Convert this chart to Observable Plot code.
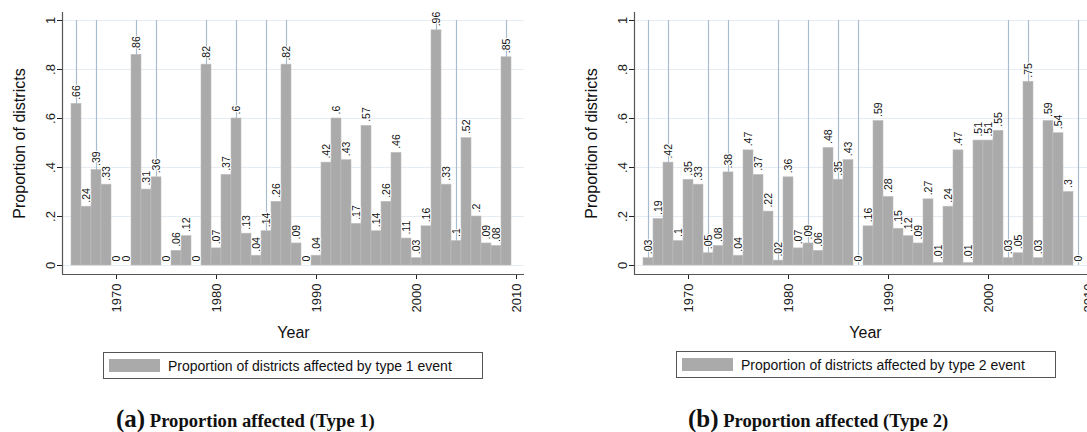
<!DOCTYPE html>
<html>
<head>
<meta charset="utf-8">
<script src="https://cdn.jsdelivr.net/npm/d3@7"></script>
<script src="https://cdn.jsdelivr.net/npm/@observablehq/plot@0.6"></script>
<style>
  html, body { margin: 0; padding: 0; background: #fff; }
  body { width: 1087px; height: 432px; overflow: hidden; position: relative; font-family: "Liberation Sans", Arial, sans-serif; }
  .chart { position: absolute; top: 0; width: 540px; height: 345px; }
  .chart svg { max-width: none !important; }
  .leg { position: absolute; box-sizing: border-box; width: 380px; height: 27px; border: 1px solid #555; display: flex; align-items: center; font-size: 14px; color: #111; white-space: nowrap; }
  .sw { display: inline-block; width: 51px; height: 13px; background: #aaaaaa; margin-left: 5px; margin-right: 8px; }
  .cap { position: absolute; top: 406px; font-family: "Liberation Serif", "Times New Roman", serif; font-weight: bold; font-size: 18.6px; line-height: 26px; white-space: nowrap; color: #111; }
  .cap .big { font-size: 25px; }
</style>
</head>
<body>
<div id="a" class="chart" style="left:0px"></div>
<div id="b" class="chart" style="left:572px"></div>
<div class="leg" style="left:103px;top:352px"><span class="sw"></span><span>Proportion of districts affected by type 1 event</span></div>
<div class="leg" style="left:676px;top:351px"><span class="sw"></span><span>Proportion of districts affected by type 2 event</span></div>
<div class="cap" style="left:116px"><span class="big">(a)</span> Proportion affected (Type 1)</div>
<div class="cap" style="left:688px"><span class="big">(b)</span> Proportion affected (Type 2)</div>
<script>
const years = [1966, 1967, 1968, 1969,
  1970, 1971, 1972, 1973, 1974, 1975, 1976, 1977, 1978, 1979,
  1980, 1981, 1982, 1983, 1984, 1985, 1986, 1987, 1988, 1989,
  1990, 1991, 1992, 1993, 1994, 1995, 1996, 1997, 1998, 1999,
  2000, 2001, 2002, 2003, 2004, 2005, 2006, 2007, 2008, 2009];
const type1 = [0.66, 0.24, 0.39, 0.33,
  0, 0, 0.86, 0.31, 0.36, 0, 0.06, 0.12, 0, 0.82,
  0.07, 0.37, 0.6, 0.13, 0.04, 0.14, 0.26, 0.82, 0.09, 0,
  0.04, 0.42, 0.6, 0.43, 0.17, 0.57, 0.14, 0.26, 0.46, 0.11,
  0.03, 0.16, 0.96, 0.33, 0.1, 0.52, 0.2, 0.09, 0.08, 0.85];
const type2 = [0.03, 0.19, 0.42, 0.1,
  0.35, 0.33, 0.05, 0.08, 0.38, 0.04, 0.47, 0.37, 0.22, 0.02,
  0.36, 0.07, 0.09, 0.06, 0.48, 0.35, 0.43, 0, 0.16, 0.59,
  0.28, 0.15, 0.12, 0.09, 0.27, 0.01, 0.24, 0.47, 0.01, 0.51,
  0.51, 0.55, 0.03, 0.05, 0.75, 0.03, 0.59, 0.54, 0.3, 0];
const eventYears = [1966, 1968, 1972, 1974, 1979, 1982, 1985, 1987, 2002, 2004, 2009];
const yTicks = [0, 0.2, 0.4, 0.6, 0.8, 1];
const xTicks = [1970, 1980, 1990, 2000, 2010];
const yTitle = "Proportion of districts";
const xTitle = "Year";

const fmt = v => v === 0 ? "0" : String(v).replace(/^0\./, ".");
const xDomain = [1964.6, 2010.8];
const yDomain = [-0.0367, 1.0327];

function chart(values) {
  const data = years.map((year, i) => ({year, value: values[i]}));
  return Plot.plot({
    width: 540, height: 345,
    marginLeft: 62, marginRight: 16, marginTop: 12, marginBottom: 71,
    style: {fontFamily: "Liberation Sans, Arial, sans-serif", fontSize: "13px", color: "#222", background: "white", overflow: "visible", maxWidth: "none"},
    x: {domain: xDomain, ticks: xTicks, tickFormat: d => String(d), tickRotate: -90, tickSize: 5, tickPadding: 4, label: null},
    y: {domain: yDomain, ticks: yTicks, tickFormat: fmt, tickRotate: -90, tickSize: 5, tickPadding: 3, label: null},
    marks: [
      Plot.ruleY(yTicks, {stroke: "#e5ecf2", strokeWidth: 1}),
      Plot.ruleX(eventYears, {y1: 0, y2: 1, stroke: "#a9bccf", strokeWidth: 1.2}),
      Plot.rectY(data, {x1: d => d.year - 0.5, x2: d => d.year + 0.5, y: "value", fill: "#aaaaaa", stroke: "#bfbfbf", strokeWidth: 0.6}),
      Plot.text(data, {x: "year", y: "value", text: d => fmt(d.value), rotate: -90, textAnchor: "start", dy: -4, fontSize: 10.5, fill: "#111", stroke: "white", strokeWidth: 2}),
      Plot.ruleX([xDomain[0]], {stroke: "#555", strokeWidth: 1.2}),
      Plot.ruleY([yDomain[0]], {stroke: "#555", strokeWidth: 1.2}),
      Plot.text([yTitle], {frameAnchor: "left", dx: -43, rotate: -90, textAnchor: "middle", fontSize: 16, fill: "#111"}),
      Plot.text([xTitle], {frameAnchor: "bottom", dy: 63, textAnchor: "middle", fontSize: 16, fill: "#111"})
    ]
  });
}
document.getElementById("a").append(chart(type1));
document.getElementById("b").append(chart(type2));
</script>
</body>
</html>
